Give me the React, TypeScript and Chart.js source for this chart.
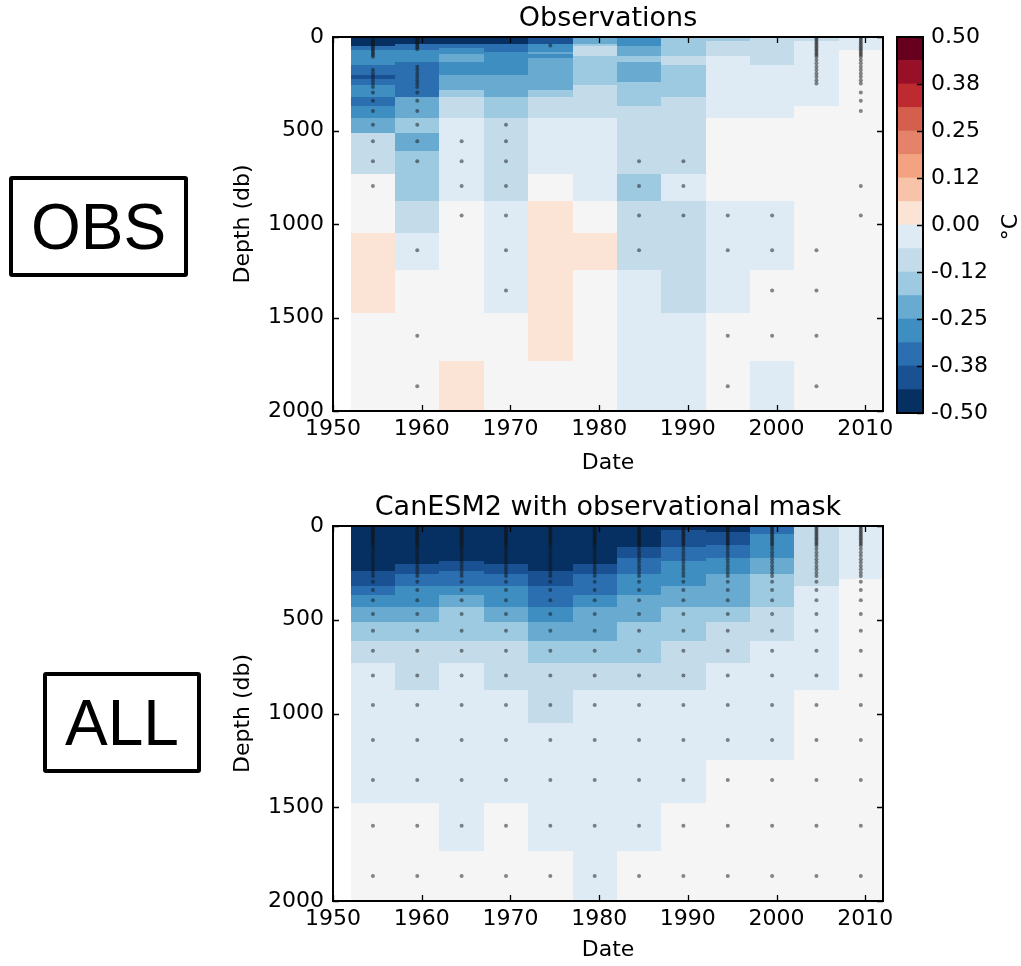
import React, { useEffect, useRef } from 'react';
import { Chart, registerables } from 'chart.js';

Chart.register(...registerables);

const FONT_FAMILY = '"DejaVu Sans", "Bitstream Vera Sans", Verdana, sans-serif';

// ---------------- data ----------------
const yearBins = [1954.5, 1959.5, 1964.5, 1969.5, 1974.5, 1979.5, 1984.5, 1989.5, 1994.5, 1999.5, 2004.5, 2009.5];
const yearBinWidth = 5;
const depthLevels = [5, 15, 25, 35, 45, 55, 65, 75, 85, 95, 105, 123, 141, 159, 177, 195, 213, 231, 249, 267, 297, 341, 396, 469, 558, 665, 797, 955, 1141, 1355, 1598, 1867];
const depthMax = 2000;
const xMin = 1950;
const xMax = 2012;
const xTicks = [1950, 1960, 1970, 1980, 1990, 2000, 2010];
const xTickLabels = ['1950', '1960', '1970', '1980', '1990', '2000', '2010'];
const yTicks = [0, 500, 1000, 1500, 2000];
const yTickLabels = ['0', '500', '1000', '1500', '2000'];
const colorBounds = [-0.5, -0.4375, -0.375, -0.3125, -0.25, -0.1875, -0.125, -0.0625, 0, 0.0625, 0.125, 0.1875, 0.25, 0.3125, 0.375, 0.4375, 0.5];
const colorTicks = [-0.5, -0.375, -0.25, -0.125, 0, 0.125, 0.25, 0.375, 0.5];
const colorTickLabels = ['-0.50', '-0.38', '-0.25', '-0.12', '0.00', '0.12', '0.25', '0.38', '0.50'];
const colorPalette = ['#053061', '#1a5192', '#2b6fb0', '#3f8ec1', '#68aad0', '#9dcae0', '#c4dcea', '#deebf4', '#fbe3d6', '#f8c4a9', '#f3a381', '#e5826a', '#d35f4c', '#bd2b31', '#981027', '#67001f'];
const neutralColor = '#f5f5f5';
const neutralBand = 0.01;

// Observations: temperature change (°C) per 5-year bin, one value per depth level
const obs1955 = [-0.47, -0.47, -0.47, -0.47, -0.47, -0.34, -0.34, -0.28, -0.28, -0.28, -0.28, -0.28, -0.28, -0.34, -0.34, -0.34, -0.41, -0.34, -0.34, -0.28, -0.28, -0.34, -0.28, -0.22, -0.09, -0.09, 0, 0, 0.03, 0.03, 0, 0];
const obs1960 = [-0.47, -0.47, -0.47, -0.47, -0.34, -0.34, -0.34, -0.28, -0.28, -0.28, -0.28, -0.28, -0.34, -0.34, -0.34, -0.34, -0.34, -0.34, -0.34, -0.34, -0.34, -0.22, -0.22, -0.16, -0.22, -0.16, -0.16, -0.09, -0.03, 0, 0, 0];
const obs1965 = [-0.47, -0.47, -0.47, -0.47, -0.34, -0.34, -0.28, -0.28, -0.28, -0.22, -0.22, -0.22, -0.28, -0.28, -0.28, -0.28, -0.22, -0.22, -0.22, -0.22, -0.16, -0.09, -0.09, -0.03, -0.03, -0.03, -0.03, 0, 0, 0, 0, 0.03];
const obs1970 = [-0.47, -0.47, -0.47, -0.47, -0.34, -0.34, -0.34, -0.34, -0.28, -0.28, -0.28, -0.28, -0.28, -0.28, -0.28, -0.28, -0.22, -0.22, -0.22, -0.22, -0.22, -0.16, -0.16, -0.09, -0.09, -0.09, -0.09, -0.03, -0.03, -0.03, 0, 0];
const obs1975 = [-0.41, -0.41, -0.41, -0.41, -0.28, -0.28, -0.28, -0.28, -0.22, -0.28, -0.28, -0.22, -0.22, -0.22, -0.22, -0.22, -0.22, -0.22, -0.22, -0.22, -0.16, -0.09, -0.09, -0.03, -0.03, -0.03, 0, 0.03, 0.03, 0.03, 0.03, 0];
const obs1980 = [-0.22, -0.22, -0.22, -0.22, -0.16, -0.09, -0.09, -0.09, -0.09, -0.09, -0.16, -0.16, -0.16, -0.16, -0.16, -0.16, -0.16, -0.16, -0.16, -0.09, -0.09, -0.09, -0.09, -0.03, -0.03, -0.03, -0.03, 0, 0.03, 0, 0, 0];
const obs1985 = [-0.28, -0.28, -0.28, -0.28, -0.28, -0.22, -0.22, -0.22, -0.22, -0.22, -0.16, -0.16, -0.22, -0.22, -0.22, -0.22, -0.22, -0.22, -0.16, -0.16, -0.16, -0.16, -0.09, -0.09, -0.09, -0.09, -0.16, -0.09, -0.09, -0.03, -0.03, -0.03];
const obs1990 = [-0.16, -0.16, -0.16, -0.16, -0.16, -0.16, -0.16, -0.16, -0.16, -0.16, -0.09, -0.09, -0.09, -0.16, -0.16, -0.16, -0.16, -0.16, -0.16, -0.16, -0.16, -0.09, -0.09, -0.09, -0.09, -0.09, -0.03, -0.09, -0.09, -0.09, -0.03, -0.03];
const obs1995 = [-0.16, -0.16, -0.09, -0.09, -0.09, -0.09, -0.09, -0.09, -0.09, -0.09, -0.03, -0.03, -0.03, -0.03, -0.03, -0.03, -0.03, -0.03, -0.03, -0.03, -0.03, -0.03, -0.03, 0, 0, 0, 0, -0.03, -0.03, -0.03, 0, 0];
const obs2000 = [-0.09, -0.09, -0.09, -0.09, -0.09, -0.09, -0.09, -0.09, -0.09, -0.09, -0.09, -0.09, -0.09, -0.03, -0.03, -0.03, -0.03, -0.03, -0.03, -0.03, -0.03, -0.03, -0.03, 0, 0, 0, 0, -0.03, -0.03, 0, 0, -0.03];
const obs2005 = [-0.09, -0.09, -0.03, -0.03, -0.03, -0.03, -0.03, -0.03, -0.03, -0.03, -0.03, -0.03, -0.03, -0.03, -0.03, -0.03, -0.03, -0.03, -0.03, -0.03, -0.03, -0.03, 0, 0, 0, 0, 0, 0, 0, 0, 0, 0];
const obs2010 = [-0.03, -0.03, -0.03, -0.03, -0.03, -0.03, -0.03, 0, 0, 0, 0, 0, 0, 0, 0, 0, 0, 0, 0, 0, 0, 0, 0, 0, 0, 0, 0, 0, 0, 0, 0, 0];

// CanESM2 with observational mask
const mod1955 = [-0.47, -0.47, -0.47, -0.47, -0.47, -0.47, -0.47, -0.47, -0.47, -0.47, -0.47, -0.47, -0.47, -0.47, -0.47, -0.47, -0.47, -0.47, -0.41, -0.41, -0.41, -0.34, -0.28, -0.22, -0.16, -0.09, -0.03, -0.03, -0.03, -0.03, 0, 0];
const mod1960 = [-0.47, -0.47, -0.47, -0.47, -0.47, -0.47, -0.47, -0.47, -0.47, -0.47, -0.47, -0.47, -0.47, -0.47, -0.47, -0.47, -0.41, -0.41, -0.41, -0.34, -0.34, -0.28, -0.28, -0.22, -0.16, -0.09, -0.09, -0.03, -0.03, -0.03, 0, 0];
const mod1965 = [-0.47, -0.47, -0.47, -0.47, -0.47, -0.47, -0.47, -0.47, -0.47, -0.47, -0.47, -0.47, -0.47, -0.47, -0.47, -0.41, -0.41, -0.41, -0.34, -0.34, -0.34, -0.28, -0.22, -0.16, -0.16, -0.09, -0.03, -0.03, -0.03, -0.03, -0.03, 0];
const mod1970 = [-0.47, -0.47, -0.47, -0.47, -0.47, -0.47, -0.47, -0.47, -0.47, -0.47, -0.47, -0.47, -0.47, -0.47, -0.47, -0.47, -0.41, -0.41, -0.41, -0.34, -0.34, -0.28, -0.28, -0.22, -0.16, -0.09, -0.09, -0.03, -0.03, -0.03, 0, 0];
const mod1975 = [-0.47, -0.47, -0.47, -0.47, -0.47, -0.47, -0.47, -0.47, -0.47, -0.47, -0.47, -0.47, -0.47, -0.47, -0.47, -0.47, -0.47, -0.47, -0.41, -0.41, -0.41, -0.34, -0.34, -0.28, -0.22, -0.16, -0.09, -0.09, -0.03, -0.03, -0.03, 0];
const mod1980 = [-0.47, -0.47, -0.47, -0.47, -0.47, -0.47, -0.47, -0.47, -0.47, -0.47, -0.47, -0.47, -0.47, -0.47, -0.47, -0.47, -0.41, -0.41, -0.41, -0.34, -0.34, -0.34, -0.28, -0.22, -0.22, -0.16, -0.09, -0.03, -0.03, -0.03, -0.03, -0.03];
const mod1985 = [-0.47, -0.47, -0.47, -0.47, -0.47, -0.47, -0.47, -0.47, -0.47, -0.47, -0.47, -0.41, -0.41, -0.41, -0.34, -0.34, -0.34, -0.34, -0.34, -0.28, -0.28, -0.28, -0.22, -0.22, -0.16, -0.16, -0.09, -0.03, -0.03, -0.03, -0.03, 0];
const mod1990 = [-0.47, -0.47, -0.41, -0.41, -0.41, -0.41, -0.41, -0.41, -0.41, -0.41, -0.41, -0.34, -0.34, -0.34, -0.34, -0.28, -0.28, -0.28, -0.28, -0.28, -0.28, -0.22, -0.22, -0.16, -0.16, -0.09, -0.09, -0.03, -0.03, -0.03, 0, 0];
const mod1995 = [-0.47, -0.47, -0.47, -0.41, -0.41, -0.41, -0.41, -0.41, -0.41, -0.41, -0.34, -0.34, -0.34, -0.34, -0.28, -0.28, -0.28, -0.28, -0.28, -0.22, -0.22, -0.22, -0.22, -0.16, -0.09, -0.09, -0.03, -0.03, -0.03, 0, 0, 0];
const mod2000 = [-0.34, -0.34, -0.34, -0.34, -0.28, -0.28, -0.28, -0.28, -0.28, -0.28, -0.28, -0.28, -0.28, -0.28, -0.22, -0.22, -0.22, -0.22, -0.22, -0.16, -0.16, -0.16, -0.16, -0.09, -0.09, -0.03, -0.03, -0.03, -0.03, 0, 0, 0];
const mod2005 = [-0.09, -0.09, -0.09, -0.09, -0.09, -0.09, -0.09, -0.09, -0.09, -0.09, -0.09, -0.09, -0.09, -0.09, -0.09, -0.09, -0.09, -0.09, -0.09, -0.09, -0.09, -0.03, -0.03, -0.03, -0.03, -0.03, -0.03, 0, 0, 0, 0, 0];
const mod2010 = [-0.03, -0.03, -0.03, -0.03, -0.03, -0.03, -0.03, -0.03, -0.03, -0.03, -0.03, -0.03, -0.03, -0.03, -0.03, -0.03, -0.03, -0.03, -0.03, -0.03, 0, 0, 0, 0, 0, 0, 0, 0, 0, 0, 0, 0];

// observation markers: indices into depthLevels, one list per 5-year bin
const obsDots1955 = [1, 2, 3, 4, 5, 6, 7, 8, 9, 10, 14, 15, 16, 17, 18, 19, 20, 21, 22, 23, 24, 25, 26];
const obsDots1960 = [0, 1, 2, 3, 4, 5, 6, 13, 14, 15, 16, 17, 18, 19, 20, 21, 22, 23, 24, 25, 28, 30, 31];
const obsDots1965 = [24, 25, 26, 27];
const obsDots1970 = [23, 24, 25, 26, 27, 28, 29];
const obsDots1975 = [4];
const obsDots1980: number[] = [];
const obsDots1985 = [25, 26, 27, 28];
const obsDots1990 = [25, 26, 27];
const obsDots1995 = [27, 28, 30, 31];
const obsDots2000 = [27, 28, 29, 30];
const obsDots2005 = [0, 1, 2, 3, 4, 5, 6, 7, 8, 9, 10, 11, 12, 13, 14, 15, 16, 17, 18, 28, 29, 30, 31];
const obsDots2010 = [0, 1, 2, 3, 4, 5, 6, 7, 8, 9, 10, 11, 12, 13, 14, 15, 16, 17, 18, 20, 21, 22, 26, 27];
const modDotsAll = [0, 1, 2, 3, 4, 5, 6, 7, 8, 9, 10, 11, 12, 13, 14, 15, 16, 17, 18, 19, 20, 21, 22, 23, 24, 25, 26, 27, 28, 29, 30, 31];

const obsColumns = [obs1955, obs1960, obs1965, obs1970, obs1975, obs1980, obs1985, obs1990, obs1995, obs2000, obs2005, obs2010];
const modColumns = [mod1955, mod1960, mod1965, mod1970, mod1975, mod1980, mod1985, mod1990, mod1995, mod2000, mod2005, mod2010];
const obsDots = [obsDots1955, obsDots1960, obsDots1965, obsDots1970, obsDots1975, obsDots1980, obsDots1985, obsDots1990, obsDots1995, obsDots2000, obsDots2005, obsDots2010];
const modDots = yearBins.map(() => modDotsAll);

// ---------------- helpers ----------------
function colorFor(v: number): string {
  if (Math.abs(v) < neutralBand) return neutralColor;
  for (let k = 0; k < colorPalette.length; k++) {
    if (v < colorBounds[k + 1]) return colorPalette[k];
  }
  return colorPalette[colorPalette.length - 1];
}

function levelTop(i: number) {
  return i === 0 ? 0 : (depthLevels[i - 1] + depthLevels[i]) / 2;
}
function levelBottom(i: number) {
  return i === depthLevels.length - 1 ? depthMax : (depthLevels[i] + depthLevels[i + 1]) / 2;
}

const font22 = { family: FONT_FAMILY, size: 22 };

function makeCellsPlugin(columns: number[][]) {
  return {
    id: 'cells',
    beforeDatasetsDraw(chart: any) {
      const { ctx, chartArea, scales } = chart;
      const xs = scales.x;
      const ys = scales.y;
      ctx.save();
      ctx.beginPath();
      ctx.rect(chartArea.left, chartArea.top, chartArea.right - chartArea.left, chartArea.bottom - chartArea.top);
      ctx.clip();
      columns.forEach((col, c) => {
        const x0 = Math.round(xs.getPixelForValue(yearBins[c] - yearBinWidth / 2));
        const x1 = Math.round(xs.getPixelForValue(yearBins[c] + yearBinWidth / 2));
        col.forEach((v, i) => {
          const y0 = Math.round(ys.getPixelForValue(levelTop(i)));
          const y1 = Math.round(ys.getPixelForValue(levelBottom(i)));
          ctx.fillStyle = colorFor(v);
          ctx.fillRect(x0, Math.min(y0, y1), x1 - x0, Math.abs(y1 - y0));
        });
      });
      ctx.restore();
    },
  };
}

const framePlugin = {
  id: 'frame',
  afterDraw(chart: any) {
    const { ctx, chartArea, scales } = chart;
    const { left, right, top, bottom } = chartArea;
    ctx.save();
    ctx.strokeStyle = '#000';
    ctx.lineWidth = 1.3;
    const tl = 6;
    ctx.beginPath();
    xTicks.forEach((v) => {
      const px = Math.round(scales.x.getPixelForValue(v)) + 0.5;
      ctx.moveTo(px, bottom);
      ctx.lineTo(px, bottom - tl);
      ctx.moveTo(px, top);
      ctx.lineTo(px, top + tl);
    });
    yTicks.forEach((v) => {
      const py = Math.round(scales.y.getPixelForValue(v)) + 0.5;
      ctx.moveTo(left, py);
      ctx.lineTo(left + tl, py);
      ctx.moveTo(right, py);
      ctx.lineTo(right - tl, py);
    });
    ctx.stroke();
    ctx.lineWidth = 2;
    ctx.strokeRect(left, top, right - left, bottom - top);
    ctx.restore();
  },
};

// ---------------- components ----------------
type HeatProps = {
  title: string;
  columns: number[][];
  dots: number[][];
  top: number;
  height: number;
  areaBottom: number;
  dateCenter: number;
};

const CANVAS_W = 910;
const AREA_LEFT = 333;
const AREA_RIGHT = 883;

function HeatMap({ title, columns, dots, top, height, areaBottom, dateCenter }: HeatProps) {
  const ref = useRef<HTMLCanvasElement>(null);
  useEffect(() => {
    const canvas = ref.current;
    if (!canvas) return;
    const points: { x: number; y: number }[] = [];
    dots.forEach((levels, c) => {
      levels.forEach((i) => points.push({ x: yearBins[c], y: depthLevels[i] }));
    });
    const chart = new Chart(canvas, {
      type: 'scatter',
      data: {
        datasets: [
          {
            data: points,
            pointRadius: 2,
            pointHoverRadius: 2,
            pointBackgroundColor: 'rgba(20,20,20,0.5)',
            pointBorderWidth: 0,
            pointBorderColor: 'rgba(0,0,0,0)',
          },
        ],
      },
      options: {
        responsive: false,
        animation: false,
        events: [],
        layout: { padding: { left: 0, right: CANVAS_W - AREA_RIGHT, top: 0, bottom: 0 } },
        plugins: {
          legend: { display: false },
          tooltip: { enabled: false },
          title: {
            display: true,
            text: title,
            fullSize: false,
            color: '#000',
            font: { family: FONT_FAMILY, size: 27, weight: 'normal' },
            padding: { top: 3, bottom: 1.6 },
          },
        },
        scales: {
          x: {
            type: 'linear',
            min: xMin,
            max: xMax,
            grid: { display: false, drawTicks: false },
            border: { display: false },
            afterBuildTicks: (s: any) => {
              s.ticks = xTicks.map((v) => ({ value: v }));
            },
            ticks: {
              font: font22,
              color: '#000',
              padding: 5,
              autoSkip: false,
              maxRotation: 0,
              callback: (v: any) => xTickLabels[xTicks.indexOf(Number(v))] ?? String(v),
            },
            title: {
              display: true,
              text: 'Date',
              color: '#000',
              font: font22,
              padding: { top: 0, bottom: height - dateCenter - 13.2 },
            },
            afterFit: (s: any) => {
              s.height = height - areaBottom;
            },
          },
          y: {
            type: 'linear',
            reverse: true,
            min: 0,
            max: depthMax,
            grid: { display: false, drawTicks: false },
            border: { display: false },
            afterBuildTicks: (s: any) => {
              s.ticks = yTicks.map((v) => ({ value: v }));
            },
            ticks: {
              font: font22,
              color: '#000',
              padding: 9,
              autoSkip: false,
              callback: (v: any) => yTickLabels[yTicks.indexOf(Number(v))] ?? String(v),
            },
            title: {
              display: true,
              text: 'Depth (db)',
              color: '#000',
              font: font22,
              padding: { top: 243 - 13.2, bottom: 0 },
            },
            afterFit: (s: any) => {
              s.width = AREA_LEFT;
            },
          },
        },
      } as any,
      plugins: [makeCellsPlugin(columns), framePlugin],
    });
    return () => chart.destroy();
  }, []);
  return (
    <canvas
      ref={ref}
      width={CANVAS_W}
      height={height}
      style={{ position: 'absolute', left: 0, top, width: CANVAS_W, height }}
    />
  );
}

function ColorBar() {
  const ref = useRef<HTMLCanvasElement>(null);
  const W = 161;
  const H = 480;
  const barLeft = 37;
  const barWidth = 26;
  const barTop = 37;
  const barBottom = 413;
  useEffect(() => {
    const canvas = ref.current;
    if (!canvas) return;
    const cbPlugin = {
      id: 'cbframe',
      afterDraw(chart: any) {
        const { ctx, chartArea, scales } = chart;
        const { left, right, top, bottom } = chartArea;
        ctx.save();
        ctx.strokeStyle = '#000';
        ctx.lineWidth = 1.3;
        ctx.beginPath();
        colorTicks.forEach((v) => {
          const py = Math.round(scales.y.getPixelForValue(v)) + 0.5;
          ctx.moveTo(right, py);
          ctx.lineTo(right - 6, py);
        });
        ctx.stroke();
        ctx.lineWidth = 2;
        ctx.strokeRect(left, top, right - left, bottom - top);
        ctx.fillStyle = '#000';
        ctx.font = `22px ${FONT_FAMILY}`;
        ctx.textAlign = 'center';
        ctx.textBaseline = 'middle';
        ctx.translate(151.5, 227);
        ctx.rotate(-Math.PI / 2);
        ctx.fillText('°C', 0, 0);
        ctx.restore();
      },
    };
    const chart = new Chart(canvas, {
      type: 'bar',
      data: {
        labels: [''],
        datasets: colorPalette.map((c, k) => ({
          data: [[colorBounds[k], colorBounds[k + 1]]],
          backgroundColor: c,
          borderWidth: 0,
          barPercentage: 1,
          categoryPercentage: 1,
          grouped: false,
        })),
      },
      options: {
        responsive: false,
        animation: false,
        events: [],
        layout: { padding: { left: barLeft, right: 0, top: barTop, bottom: H - barBottom } },
        plugins: { legend: { display: false }, tooltip: { enabled: false }, title: { display: false } },
        scales: {
          x: { display: false },
          y: {
            position: 'right',
            min: -0.5,
            max: 0.5,
            grid: { display: false, drawTicks: false },
            border: { display: false },
            afterBuildTicks: (s: any) => {
              s.ticks = colorTicks.map((v) => ({ value: v }));
            },
            ticks: {
              font: font22,
              color: '#000',
              padding: 8,
              autoSkip: false,
              callback: (v: any) => {
                const idx = colorTicks.findIndex((t) => Math.abs(t - Number(v)) < 1e-9);
                return idx >= 0 ? colorTickLabels[idx] : String(v);
              },
            },
            afterFit: (s: any) => {
              s.width = W - barLeft - barWidth;
            },
          },
        },
      } as any,
      plugins: [cbPlugin],
    });
    return () => chart.destroy();
  }, []);
  return (
    <canvas
      ref={ref}
      width={W}
      height={H}
      style={{ position: 'absolute', left: 860, top: 0, width: W, height: H }}
    />
  );
}

function LabelBox({ text, left, top, width, height }: { text: string; left: number; top: number; width: number; height: number }) {
  return (
    <div
      style={{
        position: 'absolute',
        left,
        top,
        width,
        height,
        boxSizing: 'border-box',
        border: '4px solid #000',
        borderRadius: 3,
        display: 'flex',
        alignItems: 'center',
        justifyContent: 'center',
        fontFamily: '"Liberation Sans", Arial, Helvetica, sans-serif',
        fontSize: 64,
        color: '#000',
      }}
    >
      {text}
    </div>
  );
}

export default function App() {
  return (
    <div style={{ position: 'absolute', left: 0, top: 0, width: 1021, height: 966, background: '#fff', overflow: 'hidden' }}>
      <LabelBox text="OBS" left={9} top={176} width={179} height={101} />
      <LabelBox text="ALL" left={43} top={672} width={158} height={101} />
      <HeatMap title="Observations" columns={obsColumns} dots={obsDots} top={0} height={480} areaBottom={411} dateCenter={463} />
      <HeatMap
        title="CanESM2 with observational mask"
        columns={modColumns}
        dots={modDots}
        top={489}
        height={477}
        areaBottom={412}
        dateCenter={461}
      />
      <ColorBar />
    </div>
  );
}
